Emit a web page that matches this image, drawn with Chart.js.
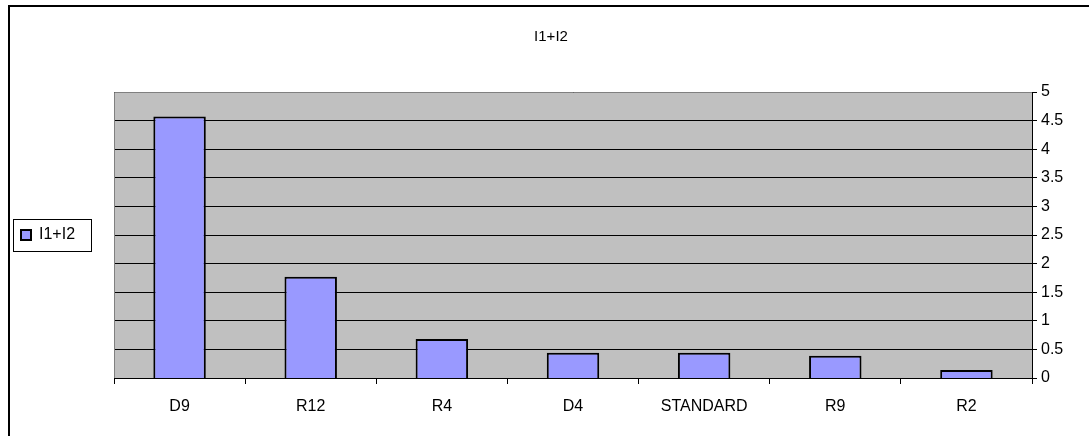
<!DOCTYPE html>
<html>
<head>
<meta charset="utf-8">
<script src="https://cdn.jsdelivr.net/npm/chart.js@4.4.0/dist/chart.umd.min.js"></script>
<style>
  html, body { margin: 0; padding: 0; background: #ffffff; }
  #wrap { width: 1089px; height: 436px; }
</style>
</head>
<body>
<div id="wrap"><canvas id="c" width="1089" height="436"></canvas></div>
<script>
// Categories and measured values
const categories = ['D9', 'R12', 'R4', 'D4', 'STANDARD', 'R9', 'R2'];
const seriesName = 'I1+I2';
const seriesValues = [4.57, 1.77, 0.68, 0.44, 0.44, 0.39, 0.14];
const yTicks = [0, 0.5, 1, 1.5, 2, 2.5, 3, 3.5, 4, 4.5, 5];

const FONT = 'Arial, "Liberation Sans", sans-serif';

// Frame, plot background and legend border
const decor = {
  id: 'decor',
  beforeDraw(chart) {
    const { ctx, chartArea: a } = chart;
    ctx.save();
    ctx.fillStyle = '#ffffff';
    ctx.fillRect(0, 0, chart.width, chart.height);
    // outer frame (top and left edges visible)
    ctx.strokeStyle = '#000000';
    ctx.lineWidth = 2;
    ctx.beginPath();
    ctx.moveTo(9, chart.height);
    ctx.lineTo(9, 6);
    ctx.lineTo(chart.width, 6);
    ctx.stroke();
    // plot area fill
    ctx.fillStyle = '#c0c0c0';
    ctx.fillRect(a.left, a.top, a.right - a.left, a.bottom - a.top);
    ctx.restore();
  },
  afterDraw(chart) {
    const { ctx, chartArea: a } = chart;
    ctx.save();
    // plot area border (top/left grey)
    ctx.strokeStyle = '#808080';
    ctx.lineWidth = 1;
    ctx.beginPath();
    ctx.moveTo(Math.round(a.left) + 0.5, Math.round(a.bottom));
    ctx.lineTo(Math.round(a.left) + 0.5, Math.round(a.top) + 0.5);
    ctx.lineTo(Math.round(a.right), Math.round(a.top) + 0.5);
    ctx.stroke();
    // legend border
    const lg = chart.legend;
    if (lg && lg.legendHitBoxes && lg.legendHitBoxes.length) {
      const hb = lg.legendHitBoxes[0];
      const x0 = Math.round(lg.left) + 0.5;
      const x1 = Math.round(hb.left + hb.width + 16) + 0.5;
      const y0 = Math.round(hb.top - 8) + 0.5;
      const y1 = Math.round(hb.top + hb.height + 8) + 0.5;
      ctx.strokeStyle = '#000000';
      ctx.strokeRect(x0, y0, x1 - x0, y1 - y0);
    }
    ctx.restore();
  }
};

new Chart(document.getElementById('c'), {
  type: 'bar',
  data: {
    labels: categories,
    datasets: [{
      label: seriesName,
      data: seriesValues,
      backgroundColor: '#9999ff',
      borderColor: '#000000',
      borderWidth: 2,
      categoryPercentage: 0.4,
      barPercentage: 1.0
    }]
  },
  options: {
    responsive: false,
    animation: false,
    devicePixelRatio: 1,
    layout: { padding: { left: 13, right: 0, top: 0, bottom: 0 } },
    plugins: {
      title: {
        display: true,
        text: seriesName,
        color: '#000000',
        font: { family: FONT, size: 15, weight: 'normal', lineHeight: 1.2 },
        padding: { top: 28, bottom: 46 }
      },
      legend: {
        display: true,
        position: 'left',
        fullSize: false,
        labels: {
          color: '#000000',
          font: { family: FONT, size: 16 },
          boxWidth: 10,
          boxHeight: 10,
          padding: 8
        }
      },
      tooltip: { enabled: false }
    },
    scales: {
      x: {
        type: 'category',
        offset: true,
        grid: {
          display: true,
          offset: true,
          drawOnChartArea: false,
          drawTicks: true,
          tickLength: 6,
          color: '#000000',
          lineWidth: 1
        },
        border: { display: true, color: '#000000', width: 1 },
        ticks: {
          color: '#000000',
          font: { family: FONT, size: 16 },
          padding: 13,
          maxRotation: 0,
          autoSkip: false
        },
        afterFit(scale) { scale.height = 436 - 378; }
      },
      pad: {
        type: 'linear',
        position: 'left',
        display: true,
        grid: { display: false, drawTicks: false },
        border: { display: false },
        ticks: { display: false },
        afterFit(scale) {
          const lw = scale.chart.legend ? scale.chart.legend.width : 0;
          scale.width = Math.max(0, 114 - 13 - lw);
        }
      },
      y: {
        type: 'linear',
        position: 'right',
        min: 0,
        max: 5,
        afterBuildTicks(scale) { scale.ticks = yTicks.map(v => ({ value: v })); },
        grid: {
          display: true,
          drawOnChartArea: true,
          drawTicks: true,
          tickLength: 5,
          color: '#000000',
          lineWidth: 1
        },
        border: { display: true, color: '#000000', width: 1 },
        ticks: {
          color: '#000000',
          font: { family: FONT, size: 16 },
          padding: 4,
          callback: v => String(v)
        },
        afterFit(scale) { scale.width = 1089 - 1032; }
      }
    }
  },
  plugins: [decor]
});
</script>
</body>
</html>
